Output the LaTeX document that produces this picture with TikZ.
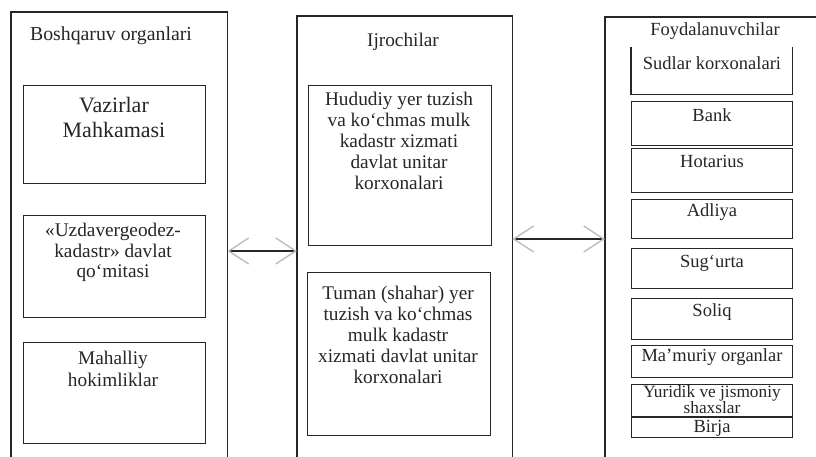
\documentclass[tikz,border=0pt]{standalone}
\usepackage{fontspec}
\setmainfont{Liberation Serif}
\usetikzlibrary{arrows.meta}
\definecolor{ink}{HTML}{262626}
\definecolor{headgray}{HTML}{BDBDBD}
\tikzset{
  col/.style={draw=none, inner sep=0pt, anchor=north west},
  colline/.style={draw=ink, line width=1.3pt},
  ibox/.style={draw=ink, line width=1.2pt, inner sep=0pt, anchor=north west},
  txt/.style={align=center, inner sep=0pt, text=ink, font=\fontsize{19.3}{21}\selectfont},
  bigtxt/.style={align=center, inner sep=0pt, text=ink, font=\fontsize{22}{25}\selectfont},
  smalltxt/.style={align=center, inner sep=0pt, text=ink, font=\fontsize{18.5}{14.5}\selectfont},
  conn/.style={draw=ink, line width=1.3pt,
    arrows={Straight Barb[length=20pt,width=26pt,line width=1.4pt,color=headgray]-Straight Barb[length=20pt,width=26pt,line width=1.4pt,color=headgray]}}
}
\begin{document}
\begin{tikzpicture}[x=1pt,y=-1pt]
\useasboundingbox[fill=white] (0,0) rectangle (816,457);

% outer columns (open at the bottom)
\node[col, minimum width=216pt, minimum height=445pt] (lcol) at (11,12) {};
\node[col, minimum width=215pt, minimum height=441pt] (mcol) at (297,16) {};
\node[col, minimum width=230pt, minimum height=440pt] (rcol) at (605,17) {};
\draw[colline] (lcol.south west) |- (lcol.north east) -- (lcol.south east);
\draw[colline] (mcol.south west) |- (mcol.north east) -- (mcol.south east);
\draw[colline] (rcol.south west) |- (rcol.north east);

% column titles
\node[txt, font=\fontsize{19.8}{21}\selectfont] (ltitle) at (111,36) {Boshqaruv organlari};
\node[txt] (mtitle) at (403,42) {Ijrochilar};
\node[smalltxt] (rtitle) at (715,31) {Foydalanuvchilar};

% left column boxes
\node[ibox, minimum width=182pt, minimum height=98pt] (vaz) at (23,85) {};
\node[bigtxt] (vazt) at (114,117.5) {Vazirlar\\Mahkamasi};
\node[ibox, minimum width=182pt, minimum height=102pt] (uzd) at (23,215) {};
\node[txt, font=\fontsize{19.3}{20.5}\selectfont] (uzdt) at (113,252.5) {«Uzdavergeodez-\\kadastr» davlat\\qo‘mitasi};
\node[ibox, minimum width=182pt, minimum height=101pt] (mah) at (23,342) {};
\node[txt, font=\fontsize{19.3}{22}\selectfont] (maht) at (113,369) {Mahalliy\\hokimliklar};

% middle column boxes
\node[ibox, minimum width=183pt, minimum height=160pt] (hud) at (308,85) {};
\node[txt] (hudt) at (399,140.5) {Hududiy yer tuzish\\va ko‘chmas mulk\\kadastr xizmati\\davlat unitar\\korxonalari};
\node[ibox, minimum width=183pt, minimum height=163pt] (tum) at (307,272) {};
\node[txt] (tumt) at (398,335) {Tuman (shahar) yer\\tuzish va ko‘chmas\\mulk kadastr\\xizmati davlat unitar\\korxonalari};

% right column boxes
\node[draw=none, inner sep=0pt, anchor=north west, minimum width=161pt, minimum height=47pt] (sud) at (631,47) {};
\draw[ink, line width=1.2pt] (sud.north west) |- (sud.south east) -- (sud.north east);
\node[smalltxt] (sudt) at (712,63) {Sudlar korxonalari};
\node[ibox, minimum width=161pt, minimum height=44pt] (bank) at (631,101) {};
\node[smalltxt] (bankt) at (712,115) {Bank};
\node[ibox, minimum width=161pt, minimum height=44pt] (hot) at (631,148) {};
\node[smalltxt] (hott) at (712,161) {Hotarius};
\node[ibox, minimum width=161pt, minimum height=39pt] (adl) at (631,199) {};
\node[smalltxt] (adlt) at (712,212) {Adliya};
\node[ibox, minimum width=161pt, minimum height=40pt] (sug) at (631,248) {};
\node[smalltxt] (sugt) at (712,263) {Sug‘urta};
\node[ibox, minimum width=161pt, minimum height=41pt] (sol) at (631,298) {};
\node[smalltxt] (solt) at (712,312) {Soliq};
\node[ibox, minimum width=161pt, minimum height=32pt] (mam) at (631,345) {};
\node[smalltxt] (mamt) at (712,357) {Ma’muriy organlar};
\node[ibox, minimum width=161pt, minimum height=32pt] (yur) at (631,384) {};
\node[smalltxt, font=\fontsize{17.3}{13.5}\selectfont] (yurt) at (712,399.5) {Yuridik ve jismoniy\\shaxslar};
\node[ibox, minimum width=161pt, minimum height=20pt] (bir) at (631,417) {};
\node[smalltxt] (birt) at (712,428) {Birja};

% connectors
\draw[conn] (lcol.east |- 0,251) -- (mcol.west |- 0,251);
\draw[conn] (mcol.east |- 0,239) -- (rcol.west |- 0,239);
\end{tikzpicture}
\end{document}
